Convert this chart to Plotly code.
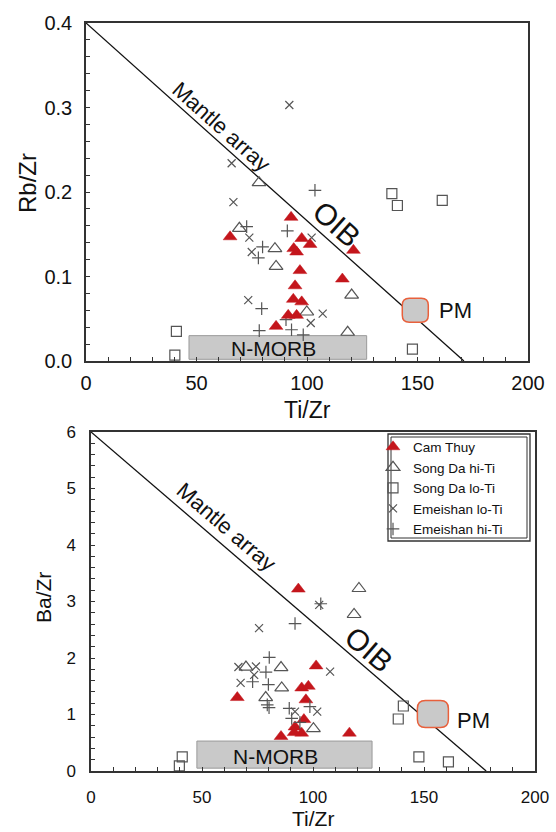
import plotly.graph_objects as go

# ---- Rb/Zr vs Ti/Zr (upper panel) ----
rb_cam_x = [92.8, 65.2, 97.6, 101.4, 95.3, 94.0, 121.0, 96.8, 116.0, 94.6, 93.8, 97.6, 91.5, 95.3, 86.0]
rb_cam_y = [0.170, 0.147, 0.145, 0.138, 0.129, 0.133, 0.131, 0.107, 0.097, 0.089, 0.073, 0.070, 0.054, 0.054, 0.041]
rb_sdhi_x = [78.3, 69.4, 85.5, 86.0, 120.2, 99.9, 118.4]
rb_sdhi_y = [0.211, 0.157, 0.133, 0.112, 0.078, 0.058, 0.034]
rb_sdlo_x = [138.4, 140.9, 161.2, 40.9, 40.2, 147.7]
rb_sdlo_y = [0.198, 0.184, 0.190, 0.035, 0.007, 0.014]
rb_emlo_x = [92.0, 65.9, 66.7, 73.9, 75.0, 102.1, 73.4, 107.1, 101.7]
rb_emlo_y = [0.303, 0.234, 0.188, 0.146, 0.129, 0.146, 0.072, 0.056, 0.045]
rb_emhi_x = [103.6, 72.7, 91.1, 79.9, 78.0, 79.5, 90.5, 78.4, 93.0, 98.3]
rb_emhi_y = [0.202, 0.159, 0.154, 0.135, 0.122, 0.062, 0.049, 0.036, 0.037, 0.031]

rb_mantle_x = [0, 171]
rb_mantle_y = [0.4, 0.0]
rb_nmorb_x = [46.6, 127.0]
rb_nmorb_y = [0.002, 0.030]
rb_pm = (149.0, 0.060)

# ---- Ba/Zr vs Ti/Zr (lower panel) ----
ba_cam_x = [93.4, 101.4, 65.9, 94.9, 97.9, 96.8, 95.9, 91.9, 94.9, 85.6, 116.4, 91.5]
ba_cam_y = [3.22, 1.86, 1.30, 1.47, 1.50, 1.26, 0.91, 0.78, 0.67, 0.61, 0.67, 0.68]
ba_sdhi_x = [120.7, 118.5, 69.8, 85.6, 85.9, 78.7, 100.2]
ba_sdhi_y = [3.23, 2.77, 1.84, 1.83, 1.47, 1.30, 0.75]
ba_sdlo_x = [140.7, 138.4, 41.1, 39.8, 147.7, 161.0]
ba_sdlo_y = [1.15, 0.92, 0.25, 0.09, 0.25, 0.16]
ba_emlo_x = [102.8, 75.7, 66.4, 74.3, 73.5, 67.4, 107.7, 101.9, 91.9]
ba_emlo_y = [2.94, 2.53, 1.84, 1.85, 1.70, 1.56, 1.76, 1.05, 1.05]
ba_emhi_x = [91.9, 103.5, 80.3, 78.8, 72.8, 79.9, 79.4, 80.2, 89.3, 98.6, 90.4, 94.1]
ba_emhi_y = [2.61, 2.96, 2.01, 1.75, 1.58, 1.53, 1.17, 1.12, 1.11, 1.14, 0.93, 0.86]

ba_mantle_x = [0, 178]
ba_mantle_y = [6.0, 0.0]
ba_nmorb_x = [47.7, 126.6]
ba_nmorb_y = [0.05, 0.53]
ba_pm = (154.0, 1.01)

series_names = ["Cam Thuy", "Song Da hi-Ti", "Song Da lo-Ti", "Emeishan lo-Ti", "Emeishan hi-Ti"]

FONT = "Liberation Sans, Arial, sans-serif"
RED = "#c4161c"
GREY = "#555555"
W, H = 556, 832

# plot-area boxes in pixels (left, right, top, bottom)
TOP_BOX = (86, 528, 23, 361)
BOT_BOX = (91, 535, 432, 771)
TOP_RANGE = ((0, 200), (0, 0.4))
BOT_RANGE = ((0, 200), (0, 6))

styles = [
    dict(symbol="triangle-up", size=12, color=RED, line=dict(color=RED, width=0.5)),
    dict(symbol="triangle-up-open", size=12, color=GREY, line=dict(color=GREY, width=1.2)),
    dict(symbol="square-open", size=10, color=GREY, line=dict(color=GREY, width=1.2)),
    dict(symbol="x-thin-open", size=8, color=GREY, line=dict(color=GREY, width=1.2)),
    dict(symbol="cross-thin-open", size=9, color=GREY, line=dict(color=GREY, width=1.2)),
]

fig = go.Figure()

upper = [(rb_cam_x, rb_cam_y), (rb_sdhi_x, rb_sdhi_y), (rb_sdlo_x, rb_sdlo_y),
         (rb_emlo_x, rb_emlo_y), (rb_emhi_x, rb_emhi_y)]
lower = [(ba_cam_x, ba_cam_y), (ba_sdhi_x, ba_sdhi_y), (ba_sdlo_x, ba_sdlo_y),
         (ba_emlo_x, ba_emlo_y), (ba_emhi_x, ba_emhi_y)]

# mantle array lines
fig.add_trace(go.Scatter(x=rb_mantle_x, y=rb_mantle_y, mode="lines",
                         line=dict(color="#111111", width=1.3), showlegend=False,
                         xaxis="x", yaxis="y", hoverinfo="skip"))
fig.add_trace(go.Scatter(x=ba_mantle_x, y=ba_mantle_y, mode="lines",
                         line=dict(color="#111111", width=1.3), showlegend=False,
                         xaxis="x2", yaxis="y2", hoverinfo="skip"))

# open symbols first so the filled triangles sit on top
order = [1, 2, 3, 4, 0]
for i in order:
    x, y = upper[i]
    fig.add_trace(go.Scatter(x=x, y=y, mode="markers", marker=styles[i],
                             name=series_names[i], showlegend=False,
                             xaxis="x", yaxis="y"))
for i in range(5):
    x, y = lower[i]
    fig.add_trace(go.Scatter(x=x, y=y, mode="markers", marker=styles[i],
                             name=series_names[i], showlegend=True,
                             xaxis="x2", yaxis="y2"))


def rounded_box(center, half_px, radius_px, box, rng):
    """Rounded rectangle path in data units around a centre point."""
    (l, r, t, b), ((x0, x1), (y0, y1)) = box, rng
    sx = (x1 - x0) / (r - l)
    sy = (y1 - y0) / (b - t)
    cx, cy = center
    w, h = half_px[0] * sx, half_px[1] * sy
    rx, ry = radius_px * sx, radius_px * sy
    L, R, B, T = cx - w, cx + w, cy - h, cy + h
    return (f"M {L + rx},{B} L {R - rx},{B} Q {R},{B} {R},{B + ry} "
            f"L {R},{T - ry} Q {R},{T} {R - rx},{T} L {L + rx},{T} "
            f"Q {L},{T} {L},{T - ry} L {L},{B + ry} Q {L},{B} {L + rx},{B} Z")


def paper_rect(l, t, r, b, width):
    return dict(type="rect", xref="paper", yref="paper",
                x0=l / W, x1=r / W, y0=1 - b / H, y1=1 - t / H,
                line=dict(color="#333333", width=width), fillcolor="rgba(0,0,0,0)")


shapes = [
    dict(type="rect", xref="x", yref="y", x0=rb_nmorb_x[0], x1=rb_nmorb_x[1],
         y0=rb_nmorb_y[0], y1=rb_nmorb_y[1], fillcolor="#c9c9c9",
         line=dict(color="#9a9a9a", width=1), layer="below"),
    dict(type="rect", xref="x2", yref="y2", x0=ba_nmorb_x[0], x1=ba_nmorb_x[1],
         y0=ba_nmorb_y[0], y1=ba_nmorb_y[1], fillcolor="#c9c9c9",
         line=dict(color="#9a9a9a", width=1), layer="below"),
    dict(type="path", xref="x", yref="y",
         path=rounded_box(rb_pm, (13, 12), 7, TOP_BOX, TOP_RANGE),
         fillcolor="#c9c9c9", line=dict(color="#e8603c", width=1.5)),
    dict(type="path", xref="x2", yref="y2",
         path=rounded_box(ba_pm, (15.5, 13.5), 8, BOT_BOX, BOT_RANGE),
         fillcolor="#c9c9c9", line=dict(color="#e8603c", width=1.5)),
    # double frame around the legend
    paper_rect(388, 434, 530, 541, 1.3),
    paper_rect(391, 437, 527, 538, 1.0),
]


def label(x, y, ref, text, size, angle=0):
    return dict(x=x, y=y, xref=ref[0], yref=ref[1], text=text, showarrow=False,
                textangle=angle, xanchor="center", yanchor="middle",
                font=dict(family=FONT, size=size, color="#111"))


annotations = [
    label(61, 0.277, ("x", "y"), "Mantle array", 22, 41.7),
    label(113.7, 0.162, ("x", "y"), "OIB", 30, 41.7),
    label(167.4, rb_pm[1], ("x", "y"), "PM", 22),
    label(85, 0.015, ("x", "y"), "N-MORB", 21),
    label(60.7, 4.32, ("x2", "y2"), "Mantle array", 22, 40.6),
    label(125.2, 2.15, ("x2", "y2"), "OIB", 30, 40.6),
    label(172.5, 0.90, ("x2", "y2"), "PM", 22),
    label(83, 0.25, ("x2", "y2"), "N-MORB", 21),
    # axis titles
    label(27 / W, 1 - 183 / H, ("paper", "paper"), "Rb/Zr", 24, -90),
    label(307 / W, 1 - 410 / H, ("paper", "paper"), "Ti/Zr", 23),
    label(43 / W, 1 - 598 / H, ("paper", "paper"), "Ba/Zr", 21, -90),
    label(313 / W, 1 - 818 / H, ("paper", "paper"), "Ti/Zr", 21),
]

axis_common = dict(showline=True, linecolor="#333333", linewidth=1.5, mirror=True,
                   showgrid=False, zeroline=False, ticks="inside", ticklen=4,
                   tickcolor="#333333", tickwidth=1.2, automargin=False)

fig.update_layout(
    width=W, height=H,
    margin=dict(l=0, r=0, t=0, b=0, autoexpand=False),
    paper_bgcolor="white", plot_bgcolor="white",
    font=dict(family=FONT, color="#111"),
    xaxis=dict(domain=[TOP_BOX[0] / W, TOP_BOX[1] / W], anchor="y", range=list(TOP_RANGE[0]),
               dtick=50, tickfont=dict(size=20), ticklabelstandoff=3,
               minor=dict(dtick=10, ticks="inside", ticklen=4, tickcolor="#333333"),
               **axis_common),
    yaxis=dict(domain=[1 - TOP_BOX[3] / H, 1 - TOP_BOX[2] / H], anchor="x", range=list(TOP_RANGE[1]),
               dtick=0.1, tickformat=".1f", tickfont=dict(size=20), ticklabelstandoff=8,
               minor=dict(dtick=0.02, ticks="inside", ticklen=4, tickcolor="#333333"),
               **axis_common),
    xaxis2=dict(domain=[BOT_BOX[0] / W, BOT_BOX[1] / W], anchor="y2", range=list(BOT_RANGE[0]),
                dtick=50, tickfont=dict(size=17), ticklabelstandoff=10,
                minor=dict(dtick=10, ticks="inside", ticklen=4, tickcolor="#333333"),
                **axis_common),
    yaxis2=dict(domain=[1 - BOT_BOX[3] / H, 1 - BOT_BOX[2] / H], anchor="x2", range=list(BOT_RANGE[1]),
                dtick=1, tickfont=dict(size=17), ticklabelstandoff=10,
                minor=dict(dtick=0.2, ticks="inside", ticklen=4, tickcolor="#333333"),
                **axis_common),
    legend=dict(x=373 / W, y=1 - 431.5 / H, xanchor="left", yanchor="top",
                bgcolor="rgba(0,0,0,0)", borderwidth=0,
                font=dict(family=FONT, size=13.5, color="#111"),
                tracegroupgap=0),
    shapes=shapes,
    annotations=annotations,
)

fig.write_html("out.html")
